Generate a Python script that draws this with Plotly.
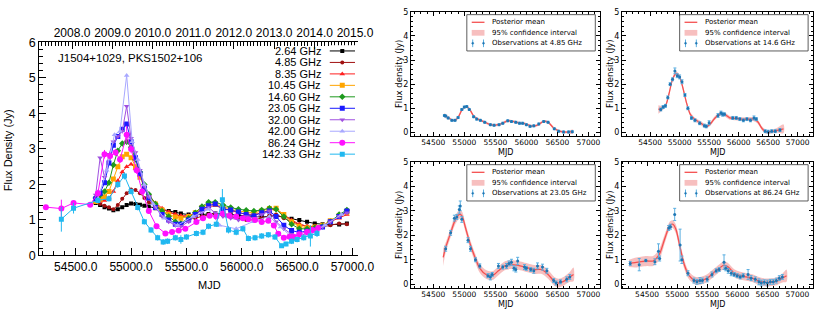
import plotly.graph_objects as go

W, H = 830, 315


def px(x):
    return x / W


def py(y):
    return 1 - y / H


# ---------------- Left panel data (multi-frequency light curves) ----------------
mjd_fg = [54680, 54720, 54760, 54800, 54840, 54880, 54920, 54960, 55000, 55040,
          55080, 55120, 55160, 55220, 55280, 55340, 55400, 55450, 55520, 55580,
          55640, 55700, 55760, 55830, 55900, 55970, 56040, 56110, 56180, 56250,
          56310, 56380, 56450, 56520, 56590, 56660, 56730, 56800, 56880, 56950]

flux_2_64 = [1.48, 1.42, 1.36, 1.32, 1.27, 1.30, 1.36, 1.42, 1.46, 1.45,
             1.43, 1.40, 1.38, 1.33, 1.28, 1.25, 1.22, 1.18, 1.15, 1.14,
             1.15, 1.17, 1.18, 1.17, 1.15, 1.12, 1.10, 1.08, 1.08, 1.10,
             1.12, 1.08, 1.03, 1.00, 0.95, 0.90, 0.88, 0.87, 0.87, 0.90]
flux_4_85 = [1.50, 1.45, 1.40, 1.36, 1.30, 1.42, 1.60, 1.75, 1.86, 1.84,
             1.75, 1.62, 1.50, 1.38, 1.30, 1.22, 1.16, 1.10, 1.07, 1.05,
             1.10, 1.15, 1.18, 1.13, 1.08, 1.04, 1.00, 1.00, 1.05, 1.12,
             1.15, 1.05, 0.95, 0.88, 0.82, 0.80, 0.80, 0.85, 0.90, 0.88]
flux_8_35 = [1.50, 1.52, 1.55, 1.62, 1.80, 2.10, 2.35, 2.50, 2.57, 2.45,
             2.25, 1.95, 1.70, 1.48, 1.33, 1.22, 1.15, 1.12, 1.12, 1.18,
             1.28, 1.38, 1.40, 1.33, 1.25, 1.20, 1.17, 1.15, 1.20, 1.28,
             1.30, 1.15, 1.00, 0.88, 0.82, 0.82, 0.85, 0.95, 1.05, 1.15]
flux_10_45 = [1.52, 1.58, 1.65, 1.80, 2.15, 2.50, 2.78, 2.85, 2.75, 2.50,
              2.20, 1.90, 1.65, 1.45, 1.28, 1.15, 1.08, 1.05, 1.10, 1.20,
              1.35, 1.45, 1.45, 1.38, 1.30, 1.25, 1.22, 1.20, 1.25, 1.32,
              1.33, 1.15, 0.95, 0.82, 0.78, 0.80, 0.85, 0.98, 1.12, 1.22]
flux_14_60 = [1.62, 1.70, 1.80, 2.05, 2.55, 2.95, 3.15, 3.20, 3.05, 2.70,
              2.35, 2.00, 1.72, 1.45, 1.25, 1.10, 0.95, 0.90, 1.05, 1.20,
              1.38, 1.50, 1.50, 1.42, 1.35, 1.30, 1.27, 1.25, 1.28, 1.33,
              1.30, 1.10, 0.88, 0.75, 0.75, 0.78, 0.82, 0.95, 1.15, 1.28]
flux_23_05 = [1.60, 1.75, 2.05, 2.60, 3.10, 3.35, 3.55, 3.70, 3.20, 2.75,
              2.30, 1.90, 1.62, 1.35, 1.15, 1.00, 0.88, 0.88, 1.00, 1.15,
              1.30, 1.40, 1.45, 1.30, 1.28, 1.22, 1.15, 1.12, 1.20, 1.25,
              1.10, 0.85, 0.70, 0.65, 0.68, 0.72, 0.80, 0.95, 1.10, 1.25]
flux_32_00 = [1.70, 2.75, 2.20, 2.85, 3.20, 3.35, 3.50, 4.20, 3.30, 2.90,
              2.40, 1.95, 1.65, 1.35, 1.10, 0.95, 0.85, 0.82, 0.95, 1.10,
              1.20, 1.35, 1.20, 1.10, 1.05, 1.00, 1.10, 1.05, 1.15, 1.25,
              0.95, 0.75, 0.60, 0.55, 0.62, 0.70, 0.80, 0.95, 1.10, 1.20]

mjd_42 = [54700, 54780, 54850, 54900, 54960, 55010, 55060, 55120, 55200, 55300,
          55420, 55560, 55700, 55800, 55950, 56100, 56250, 56350, 56480, 56560,
          56650, 56750, 56900]
flux_42_00 = [1.60, 2.40, 3.40, 3.50, 5.07, 3.20, 2.70, 2.00, 1.45, 1.05,
              0.85, 1.10, 1.30, 0.85, 0.75, 0.95, 1.10, 0.80, 0.45, 0.50,
              0.65, 0.85, 1.15]

mjd_86 = [54230, 54370, 54480, 54630, 54700, 54760, 54810, 54860, 54900, 54960,
          55000, 55050, 55100, 55160, 55230, 55310, 55370, 55430, 55490, 55590,
          55650, 55710, 55770, 55830, 55890, 55950, 56010, 56060, 56120, 56180,
          56240, 56290, 56330, 56380, 56430, 56470, 56520, 56590, 56640, 56690]
flux_86_24 = [1.36, 1.32, 1.48, 1.43, 1.75, 2.85, 2.80, 2.90, 2.70, 3.40,
              3.00, 2.40, 1.80, 1.25, 0.82, 0.62, 0.66, 0.70, 0.75, 0.94,
              1.05, 1.12, 1.10, 1.18, 1.12, 1.10, 1.05, 1.02, 1.00, 0.94,
              0.98, 0.84, 0.61, 0.50, 0.53, 0.52, 0.60, 0.66, 0.72, 0.77]
err_86_24 = [0.06, 0.25, 0.06, 0.06, 0.10, 0.12, 0.10, 0.10, 0.10, 0.25,
             0.12, 0.10, 0.10, 0.08, 0.06, 0.06, 0.06, 0.06, 0.06, 0.06,
             0.06, 0.06, 0.06, 0.08, 0.06, 0.06, 0.06, 0.06, 0.06, 0.06,
             0.06, 0.06, 0.06, 0.06, 0.06, 0.06, 0.06, 0.06, 0.06, 0.06]

mjd_142 = [54370, 54480, 54700, 54800, 54880, 54940, 55000, 55060, 55120, 55180,
           55240, 55290, 55330, 55400, 55450, 55500, 55590, 55650, 55700, 55770,
           55825, 55880, 55950, 56010, 56060, 56120, 56180, 56240, 56300, 56360,
           56400, 56450, 56500, 56560, 56620, 56680]
flux_142_33 = [1.02, 1.33, 1.55, 1.60, 2.00, 2.24, 1.80, 1.35, 0.95, 0.72,
               0.50, 0.38, 0.40, 0.50, 0.45, 0.52, 0.62, 0.65, 0.82, 0.88,
               1.57, 0.72, 0.65, 0.75, 0.48, 0.50, 0.55, 0.58, 0.52, 0.27,
               0.32, 0.40, 0.45, 0.50, 0.55, 0.62]
err_142_33 = [0.35, 0.15, 0.08, 0.08, 0.10, 0.10, 0.08, 0.08, 0.08, 0.08,
              0.08, 0.08, 0.08, 0.08, 0.12, 0.08, 0.08, 0.08, 0.08, 0.08,
              0.30, 0.10, 0.08, 0.08, 0.08, 0.08, 0.08, 0.08, 0.08, 0.06,
              0.06, 0.08, 0.08, 0.08, 0.30, 0.10]

band_labels = ["2.64 GHz", "4.85 GHz", "8.35 GHz", "10.45 GHz", "14.60 GHz",
               "23.05 GHz", "32.00 GHz", "42.00 GHz", "86.24 GHz", "142.33 GHz"]
band_x = [mjd_fg, mjd_fg, mjd_fg, mjd_fg, mjd_fg, mjd_fg, mjd_fg, mjd_42, mjd_86, mjd_142]
band_y = [flux_2_64, flux_4_85, flux_8_35, flux_10_45, flux_14_60, flux_23_05,
          flux_32_00, flux_42_00, flux_86_24, flux_142_33]
band_err = [None, None, None, None, None, None, None, None, err_86_24, err_142_33]
band_colors = ["#000000", "#a01010", "#ff2020", "#ffa500", "#1e9a1e", "#1a1aff",
               "#a050e0", "#a8a8ff", "#ff10ff", "#20b8f0"]
band_symbols = ["square", "circle", "triangle-up", "square", "diamond", "square",
                "triangle-down", "triangle-up", "circle", "square"]
band_sizes = [4, 4, 5, 5, 5, 5, 5, 5, 6, 5]

years = [2008, 2009, 2010, 2011, 2012, 2013, 2014, 2015]
year_labels = [f"{y}.0" for y in years]
year_mjd = [51544.5 + (y - 2000) * 365.25 for y in years]

# ---------------- Right panels data (GP fits) ----------------
gp_freq = ["4.85", "14.6", "23.05", "86.24"]

gp1_t = [54680, 54740, 54800, 54850, 54900, 54960, 55020, 55080, 55150, 55220,
         55300, 55400, 55500, 55600, 55700, 55780, 55880, 55960, 56040, 56100,
         56180, 56280, 56350, 56450, 56550, 56650, 56750]
gp1_mean = [0.70, 0.62, 0.52, 0.50, 0.62, 0.92, 1.07, 0.98, 0.68, 0.55,
            0.46, 0.34, 0.30, 0.36, 0.48, 0.46, 0.40, 0.37, 0.30, 0.26,
            0.30, 0.46, 0.42, 0.16, 0.04, 0.01, 0.03]
gp1_half = [0.10, 0.06, 0.05, 0.05, 0.05, 0.05, 0.05, 0.05, 0.05, 0.05,
            0.05, 0.05, 0.05, 0.05, 0.05, 0.05, 0.05, 0.05, 0.05, 0.05,
            0.05, 0.05, 0.05, 0.05, 0.05, 0.05, 0.09]
obs1_t = [54680, 54700, 54740, 54800, 54850, 54900, 54960, 55000, 55040, 55080,
          55150, 55200, 55260, 55330, 55420, 55480, 55560, 55620, 55700, 55760,
          55830, 55890, 55940, 56000, 56060, 56120, 56200, 56280, 56350, 56450,
          56520, 56600, 56680, 56740]
obs1_f = [0.70, 0.68, 0.60, 0.50, 0.50, 0.62, 0.95, 1.05, 1.07, 0.95,
          0.65, 0.55, 0.50, 0.42, 0.32, 0.30, 0.32, 0.38, 0.48, 0.45,
          0.42, 0.38, 0.38, 0.32, 0.25, 0.27, 0.35, 0.45, 0.42, 0.15,
          0.05, 0.02, 0.02, 0.03]
obs1_e = [0.04] * 34

gp2_t = [54640, 54700, 54760, 54820, 54880, 54940, 55000, 55060, 55120, 55180,
         55250, 55350, 55450, 55520, 55600, 55700, 55780, 55850, 55950, 56050,
         56150, 56250, 56320, 56400, 56470, 56550, 56650, 56760]
gp2_mean = [0.95, 1.00, 1.10, 1.60, 2.20, 2.45, 2.30, 1.80, 1.20, 0.75,
            0.55, 0.40, 0.25, 0.35, 0.60, 0.78, 0.72, 0.60, 0.58, 0.55,
            0.55, 0.55, 0.45, 0.15, 0.02, 0.03, 0.08, 0.15]
gp2_half = [0.18, 0.10, 0.08, 0.08, 0.08, 0.08, 0.08, 0.08, 0.08, 0.08,
            0.08, 0.08, 0.08, 0.08, 0.08, 0.08, 0.08, 0.08, 0.08, 0.08,
            0.08, 0.08, 0.08, 0.08, 0.08, 0.08, 0.10, 0.18]
obs2_t = [54680, 54720, 54760, 54800, 54840, 54880, 54920, 54960, 55000, 55040,
          55090, 55140, 55200, 55260, 55340, 55420, 55450, 55500, 55650, 55700,
          55730, 55760, 55900, 55960, 56020, 56080, 56140, 56200, 56260, 56300,
          56450, 56500, 56560, 56620, 56700]
obs2_f = [0.95, 1.05, 1.10, 1.45, 2.00, 2.20, 2.55, 2.35, 2.30, 2.10,
          1.55, 1.00, 0.60, 0.50, 0.38, 0.28, 0.25, 0.40, 0.70, 0.80,
          0.75, 0.75, 0.60, 0.60, 0.55, 0.50, 0.55, 0.50, 0.60, 0.55,
          0.05, 0.03, 0.05, 0.05, 0.10]
obs2_e = [0.06, 0.06, 0.06, 0.06, 0.06, 0.06, 0.12, 0.08, 0.08, 0.08,
          0.06, 0.06, 0.06, 0.06, 0.06, 0.06, 0.06, 0.08, 0.08, 0.08,
          0.08, 0.06, 0.06, 0.06, 0.06, 0.06, 0.06, 0.06, 0.08, 0.06,
          0.06, 0.06, 0.06, 0.06, 0.06]

gp3_t = [54660, 54700, 54780, 54850, 54920, 54960, 55020, 55100, 55180, 55250,
         55350, 55450, 55550, 55650, 55750, 55850, 55950, 56050, 56150, 56250,
         56350, 56450, 56520, 56600, 56700, 56760]
gp3_mean = [1.10, 1.50, 2.10, 2.60, 2.85, 2.80, 2.30, 1.60, 1.05, 0.65,
            0.40, 0.35, 0.55, 0.75, 0.80, 0.78, 0.72, 0.65, 0.60, 0.60,
            0.40, 0.12, 0.05, 0.12, 0.30, 0.40]
gp3_half = [0.35, 0.20, 0.18, 0.18, 0.18, 0.18, 0.18, 0.18, 0.18, 0.18,
            0.18, 0.18, 0.18, 0.18, 0.18, 0.18, 0.18, 0.18, 0.18, 0.18,
            0.18, 0.18, 0.18, 0.18, 0.20, 0.28]
obs3_t = [54700, 54780, 54840, 54880, 54920, 54935, 54960, 55060, 55100, 55180,
          55250, 55380, 55420, 55450, 55550, 55620, 55680, 55720, 55760, 55800,
          55830, 55860, 55970, 56000, 56070, 56120, 56180, 56260, 56330, 56440,
          56480, 56550, 56650, 56700]
obs3_f = [1.45, 2.10, 2.70, 2.75, 3.05, 3.20, 2.65, 1.80, 1.45, 1.00,
          0.75, 0.35, 0.30, 0.40, 0.75, 0.70, 0.75, 0.85, 0.90, 0.65,
          0.60, 0.95, 0.70, 0.65, 0.60, 0.55, 0.75, 0.70, 0.55, 0.15,
          0.05, 0.10, 0.20, 0.30]
obs3_e = [0.10, 0.10, 0.12, 0.10, 0.15, 0.20, 0.12, 0.10, 0.10, 0.08,
          0.08, 0.08, 0.12, 0.08, 0.10, 0.08, 0.10, 0.10, 0.12, 0.10,
          0.10, 0.15, 0.10, 0.08, 0.08, 0.10, 0.12, 0.12, 0.10, 0.08,
          0.08, 0.08, 0.10, 0.10]

gp4_t = [54200, 54300, 54400, 54500, 54600, 54700, 54800, 54880, 54930, 54980,
         55050, 55120, 55200, 55300, 55400, 55500, 55600, 55700, 55780, 55850,
         55950, 56050, 56150, 56250, 56350, 56450, 56550, 56650, 56750, 56820]
gp4_mean = [0.85, 0.88, 0.92, 0.95, 0.95, 1.20, 1.90, 2.40, 2.45, 2.25,
            1.50, 0.80, 0.35, 0.15, 0.15, 0.25, 0.45, 0.65, 0.78, 0.70,
            0.45, 0.35, 0.30, 0.25, 0.15, 0.08, 0.08, 0.12, 0.25, 0.35]
gp4_half = [0.15, 0.20, 0.20, 0.20, 0.20, 0.22, 0.18, 0.16, 0.16, 0.18,
            0.20, 0.18, 0.16, 0.16, 0.16, 0.16, 0.16, 0.16, 0.16, 0.16,
            0.16, 0.16, 0.16, 0.16, 0.16, 0.16, 0.16, 0.16, 0.18, 0.25]
obs4_t = [54220, 54370, 54480, 54630, 54690, 54710, 54860, 54890, 54960, 55050,
          55080, 55180, 55280, 55330, 55380, 55420, 55500, 55580, 55650, 55700,
          55780, 55810, 55850, 55900, 55950, 56000, 56050, 56100, 56180, 56230,
          56300, 56360, 56400, 56450, 56500, 56550, 56600, 56650, 56700, 56750]
obs4_f = [0.85, 0.80, 0.97, 0.92, 1.35, 1.05, 2.30, 2.35, 2.85, 1.60,
          1.00, 0.45, 0.15, 0.10, 0.15, 0.15, 0.20, 0.40, 0.55, 0.60,
          0.90, 0.65, 0.55, 0.45, 0.40, 0.35, 0.30, 0.35, 0.40, 0.25,
          0.20, 0.10, 0.05, 0.08, 0.05, 0.10, 0.10, 0.15, 0.25, 0.30]
obs4_e = [0.08, 0.25, 0.05, 0.12, 0.30, 0.10, 0.10, 0.10, 0.25, 0.65,
          0.15, 0.10, 0.10, 0.10, 0.12, 0.10, 0.10, 0.10, 0.08, 0.08,
          0.30, 0.10, 0.10, 0.10, 0.08, 0.08, 0.08, 0.08, 0.20, 0.10,
          0.10, 0.12, 0.12, 0.10, 0.12, 0.10, 0.10, 0.10, 0.10, 0.10]

gp_t = [gp1_t, gp2_t, gp3_t, gp4_t]
gp_mean = [gp1_mean, gp2_mean, gp3_mean, gp4_mean]
gp_half = [gp1_half, gp2_half, gp3_half, gp4_half]
obs_t = [obs1_t, obs2_t, obs3_t, obs4_t]
obs_f = [obs1_f, obs2_f, obs3_f, obs4_f]
obs_e = [obs1_e, obs2_e, obs3_e, obs4_e]

# panel pixel boxes (x0, x1, ytop, ybottom) and x ranges
panels = [(419, 612, 5, 135), (634, 829, 5, 135), (419, 612, 162, 294), (634, 829, 162, 294)]
panel_xr = [[54140, 57190], [54020, 57260], [54140, 57190], [54080, 57260]]

LFONT = "Liberation Sans, Arial, sans-serif"
RFONT = "DejaVu Sans, sans-serif"

fig = go.Figure()

# ---- left panel traces ----
for lab, xs, ys, es, col, sym, sz in zip(band_labels, band_x, band_y, band_err,
                                         band_colors, band_symbols, band_sizes):
    tr = dict(x=xs, y=ys, mode="lines+markers", name=lab,
              line=dict(color=col, width=1),
              marker=dict(color=col, symbol=sym, size=sz, line=dict(width=0)),
              xaxis="x", yaxis="y", showlegend=False, hoverinfo="skip")
    if es is not None:
        tr["error_y"] = dict(type="data", array=es, color=col, thickness=1, width=0)
    fig.add_trace(go.Scatter(**tr))

# dummy trace to activate the top (year) axis
fig.add_trace(go.Scatter(x=[year_mjd[0]], y=[0], mode="markers",
                         marker=dict(opacity=0), xaxis="x7", yaxis="y",
                         showlegend=False, hoverinfo="skip"))

# left legend samples on hidden axis x6/y6
for i, (col, sym, sz) in enumerate(zip(band_colors, band_symbols, band_sizes)):
    fig.add_trace(go.Scatter(x=[0, 1], y=[i, i], mode="lines", line=dict(color=col, width=1),
                             xaxis="x6", yaxis="y6", showlegend=False, hoverinfo="skip"))
    fig.add_trace(go.Scatter(x=[0.5], y=[i], mode="markers",
                             marker=dict(color=col, symbol=sym, size=sz, line=dict(width=0)),
                             xaxis="x6", yaxis="y6", showlegend=False, hoverinfo="skip"))

annotations = []
shapes = []
for i, lab in enumerate(band_labels):
    annotations.append(dict(text=lab, x=px(328), xref="paper", y=i, yref="y6",
                            xanchor="right", yanchor="middle", showarrow=False,
                            borderpad=0,
                            font=dict(family=LFONT, size=11, color="#000")))

annotations.append(dict(text="J1504+1029, PKS1502+106", x=px(57), y=py(53), xref="paper",
                        yref="paper", xanchor="left", yanchor="middle", showarrow=False,
                        font=dict(family=LFONT, size=11.5, color="#000")))
annotations.append(dict(text="MJD", x=px(214), y=py(291), xref="paper", yref="paper",
                        xanchor="center", yanchor="middle", showarrow=False,
                        font=dict(family=LFONT, size=11, color="#000")))
annotations.append(dict(text="Flux Density (Jy)", x=px(8), y=py(150), xref="paper",
                        yref="paper", textangle=-90, xanchor="center", yanchor="middle",
                        showarrow=False, font=dict(family=LFONT, size=11, color="#000")))

# ---- right panels ----
BAND_FILL = "rgba(240,128,128,0.5)"
MEAN_COL = "rgb(245,80,80)"
OBS_COL = "#1f77b4"
ERR_COL = "#5aaee0"

for k in range(4):
    xa = f"x{k + 2}"
    ya = f"y{k + 2}"
    t = gp_t[k]
    m = gp_mean[k]
    h = gp_half[k]
    upper = [a + b for a, b in zip(m, h)]
    lower = [a - b for a, b in zip(m, h)]
    fig.add_trace(go.Scatter(x=t + t[::-1], y=upper + lower[::-1], fill="toself",
                             fillcolor=BAND_FILL, line=dict(width=0, shape="spline", smoothing=0.8),
                             mode="lines", xaxis=xa, yaxis=ya, showlegend=False,
                             hoverinfo="skip"))
    fig.add_trace(go.Scatter(x=t, y=m, mode="lines",
                             line=dict(color=MEAN_COL, width=1.3, shape="spline", smoothing=0.8),
                             xaxis=xa, yaxis=ya, showlegend=False, hoverinfo="skip"))
    fig.add_trace(go.Scatter(x=obs_t[k], y=obs_f[k], mode="markers",
                             marker=dict(color=OBS_COL, size=3),
                             error_y=dict(type="data", array=obs_e[k], color=ERR_COL,
                                          thickness=1, width=1.5),
                             xaxis=xa, yaxis=ya, showlegend=False, hoverinfo="skip"))

    x0, x1, yt, yb = panels[k]
    # axis titles
    annotations.append(dict(text="MJD", x=px((x0 + x1) / 2), y=py(yb + 17), xref="paper",
                            yref="paper", xanchor="center", yanchor="middle", showarrow=False,
                            borderpad=0,
                            font=dict(family=RFONT, size=8, color="#000")))
    annotations.append(dict(text="Flux density (Jy)", x=px(x0 - 12), y=py((yt + yb) / 2),
                            xref="paper", yref="paper", textangle=-90, xanchor="center",
                            yanchor="middle", showarrow=False,
                            font=dict(family=RFONT, size=8.5, color="#000")))
    # manual legend
    bx0 = x1 - 136
    bx1 = x1 - 5
    by0 = yt + 3
    by1 = yt + 41
    shapes.append(dict(type="rect", xref="paper", yref="paper", x0=px(bx0), x1=px(bx1),
                       y0=py(by1), y1=py(by0), line=dict(color="#333", width=0.8),
                       fillcolor="white", layer="above"))
    r1, r2, r3 = yt + 11, yt + 22, yt + 33
    sx0, sx1 = bx0 + 5, bx0 + 18
    shapes.append(dict(type="line", xref="paper", yref="paper", x0=px(sx0), x1=px(sx1),
                       y0=py(r1), y1=py(r1), line=dict(color=MEAN_COL, width=1.3),
                       layer="above"))
    shapes.append(dict(type="rect", xref="paper", yref="paper", x0=px(sx0), x1=px(sx1),
                       y0=py(r2 + 3), y1=py(r2 - 3), line=dict(width=0),
                       fillcolor=BAND_FILL, layer="above"))
    for ex in (sx0 + 1, sx1 - 1):
        shapes.append(dict(type="line", xref="paper", yref="paper", x0=px(ex), x1=px(ex),
                           y0=py(r3 + 4), y1=py(r3 - 4), line=dict(color=ERR_COL, width=1),
                           layer="above"))
        shapes.append(dict(type="circle", xref="paper", yref="paper", x0=px(ex - 1),
                           x1=px(ex + 1), y0=py(r3 + 1), y1=py(r3 - 1),
                           line=dict(color=OBS_COL, width=0.5), fillcolor=OBS_COL,
                           layer="above"))
    for txt, rr in (("Posterior mean", r1), ("95% confidence interval", r2),
                    (f"Observations at {gp_freq[k]} GHz", r3)):
        annotations.append(dict(text=txt, x=px(sx1 + 7), y=py(rr), xref="paper",
                                yref="paper", xanchor="left", yanchor="middle",
                                showarrow=False, borderpad=0,
                                font=dict(family=RFONT, size=7, color="#000")))

layout = dict(
    width=W, height=H, margin=dict(l=0, r=0, t=0, b=0),
    paper_bgcolor="white", plot_bgcolor="white", showlegend=False,
    annotations=annotations, shapes=shapes,
)

layout["xaxis"] = dict(domain=[px(40), px(365)], range=[54170, 57050], anchor="y",
                       showline=True, linecolor="#000", linewidth=1, mirror=False,
                       ticks="inside", ticklen=7, tickwidth=1, tickcolor="#000",
                       dtick=500, tick0=0, tickformat=".1f", showgrid=False, zeroline=False,
                       tickangle=0,
                       tickfont=dict(family=LFONT, size=12, color="#000"),
                       minor=dict(dtick=100, tick0=0, ticks="inside", ticklen=4,
                                  tickcolor="#000", showgrid=False))
layout["yaxis"] = dict(domain=[py(260), py(37)], range=[0, 6], anchor="x",
                       showline=True, linecolor="#000", linewidth=1, mirror=False,
                       ticks="inside", ticklen=7, tickwidth=1, tickcolor="#000",
                       dtick=1, tick0=0, showgrid=False, zeroline=False,
                       tickfont=dict(family=LFONT, size=12.5, color="#000"),
                       minor=dict(dtick=0.2, tick0=0, ticks="inside", ticklen=4,
                                  tickcolor="#000", showgrid=False))
layout["xaxis7"] = dict(overlaying="x", side="top", anchor="y", range=[54170, 57050],
                        showline=True, linecolor="#000", linewidth=1,
                        tickmode="array", tickvals=year_mjd, ticktext=year_labels,
                        tickangle=0,
                        ticks="inside", ticklen=7, tickcolor="#000", showgrid=False,
                        zeroline=False, tickfont=dict(family=LFONT, size=12, color="#000"),
                        minor=dict(tickmode="linear", tick0=year_mjd[0], dtick=365.25 / 12,
                                   ticks="inside", ticklen=4, tickcolor="#000",
                                   showgrid=False))
layout["xaxis6"] = dict(domain=[px(336), px(362)], range=[0, 1], anchor="y6",
                        visible=False, fixedrange=True)
layout["yaxis6"] = dict(domain=[py(160), py(40)], range=[9.5, -0.5], anchor="x6",
                        visible=False, fixedrange=True)

for k in range(4):
    x0, x1, yt, yb = panels[k]
    n = k + 2
    layout[f"xaxis{n}"] = dict(domain=[px(x0), px(x1)], range=panel_xr[k], anchor=f"y{n}",
                               showline=True, mirror="ticks", linecolor="#000", linewidth=0.8,
                               ticks="inside", ticklen=4, tickcolor="#000", tickwidth=0.8,
                               dtick=500, tick0=0, tickformat="d", showgrid=False,
                               zeroline=False, tickangle=0, ticklabelstandoff=-1,
                               tickfont=dict(family=RFONT, size=7.5, color="#000"),
                               minor=dict(dtick=100, tick0=0, ticks="inside", ticklen=2,
                                          tickcolor="#000", showgrid=False))
    layout[f"yaxis{n}"] = dict(domain=[py(yb), py(yt)], range=[-0.15, 5], anchor=f"x{n}",
                               showline=True, mirror="ticks", linecolor="#000", linewidth=0.8,
                               ticks="inside", ticklen=4, tickcolor="#000", tickwidth=0.8,
                               dtick=1, tick0=0, showgrid=False, zeroline=False,
                               tickfont=dict(family=RFONT, size=8, color="#000"),
                               minor=dict(dtick=0.2, tick0=0, ticks="inside", ticklen=2,
                                          tickcolor="#000", showgrid=False))

fig.update_layout(**layout)
fig.write_html("out.html", include_plotlyjs=True, config={"displayModeBar": False},
               post_script="document.body.style.margin='0';")
